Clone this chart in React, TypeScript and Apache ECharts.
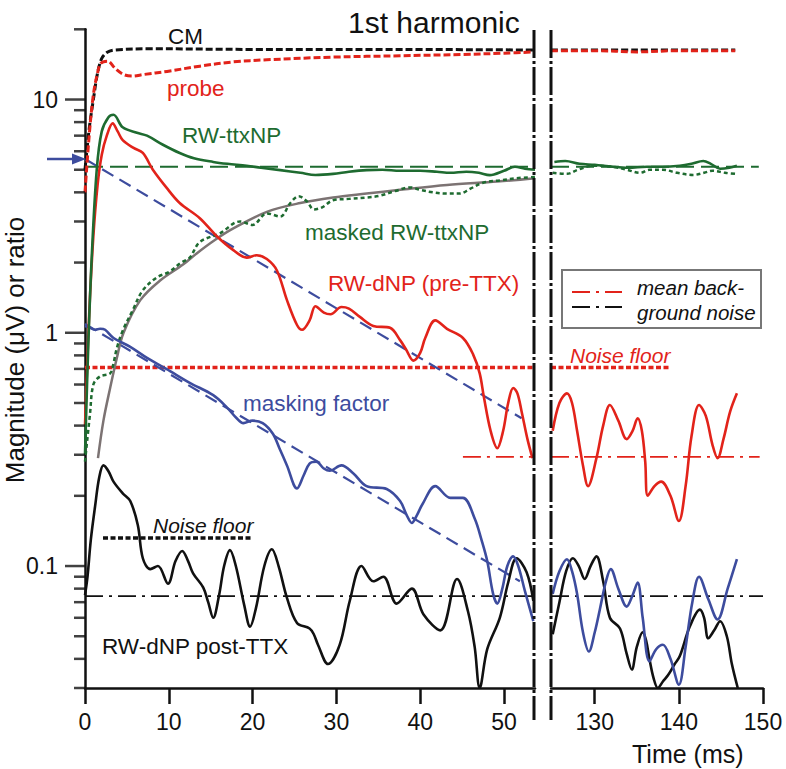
import React, { useEffect, useRef } from 'react';
import * as echarts from 'echarts';

// ---------- data (time in ms, magnitude in µV or ratio) ----------
const cmLeft = [[0,5],[0.5,7.5],[1,10],[1.5,13],[2,15],[2.6,15.9],[3.5,16.3],[8,16.5],[20,16.4],[35,16.4],[53.7,16.3]];
const cmRight = [[124.8,16.3],[135,16.3],[146.7,16.3]];
const probeLeft = [[0,4.0],[0.5,7],[1,10.5],[1.5,13],[1.9,14.3],[2.7,14.6],[3.6,13.6],[4.6,12.8],[5.6,12.6],[7,12.8],[9.8,13.2],[13.7,13.9],[17.7,14.5],[21.7,14.8],[29.6,15.2],[37.6,15.4],[45,15.6],[50,15.8],[53.7,16.0]];
const probeRight = [[124.8,16.2],[130,16.2],[135,16.0],[140,16.2],[146.7,16.2]];

const ttxLeft = [[0,0.3],[0.4,0.9],[0.8,2.1],[1.4,5.0],[2.0,7.3],[2.8,8.4],[3.4,8.6],[4.5,7.6],[6.2,7.2],[7.4,7.0],[9.3,6.4],[11.3,5.9],[13,5.6],[15.3,5.4],[17,5.3],[19.3,5.2],[21,5.1],[23.3,4.98],[25.7,4.85],[27.5,4.75],[29.6,4.8],[31.5,4.9],[33.6,4.98],[35.5,5.0],[37.6,4.95],[40,4.95],[42,4.9],[43.6,4.85],[45.5,4.9],[47,4.85],[48.3,4.74],[50,4.95],[51.3,5.15],[52.5,5.05],[53.7,5.0]];
const ttxRight = [[125.2,5.4],[126.5,5.45],[128.2,5.3],[130,5.25],[132.1,5.15],[134,5.1],[136.2,5.15],[138,5.15],[140.1,5.2],[141.5,5.3],[142.9,5.45],[143.8,5.3],[144.9,5.05],[146,5.1],[146.9,5.2]];

const maskedLeft = [[0,0.28],[0.6,0.45],[1,0.6],[1.8,0.65],[3,0.67],[3.4,0.74],[3.8,0.86],[4.5,1.02],[5.7,1.25],[6.9,1.52],[8.6,1.73],[10,1.82],[11.5,2.0],[12.5,2.1],[13.7,2.45],[16.1,2.67],[18.5,3.0],[20,2.9],[21.7,3.25],[23.3,3.15],[24.5,3.6],[25.5,3.85],[26.5,3.65],[27.3,3.38],[28.3,3.45],[29.6,3.7],[31.5,3.75],[33.6,3.8],[35.2,3.87],[37,4.05],[38.8,4.2],[40,4.1],[41.5,4.0],[43,3.95],[44.7,3.95],[46,4.15],[47.5,4.4],[49.5,4.5],[51.5,4.6],[53.7,4.65]];
const maskedRight = [[125,4.85],[126.7,4.8],[128,5.0],[129.8,5.2],[132.1,5.15],[133.8,5.0],[135.4,4.85],[136.5,5.0],[138.1,5.0],[139.8,4.85],[141.7,4.75],[143,4.85],[144,4.95],[145.5,4.85],[146.7,4.8]];

const fitLeft = [[1.55,0.29],[2.2,0.42],[3,0.58],[3.8,0.78],[4.6,1.0],[6.6,1.38],[9,1.68],[11.7,1.96],[13.4,2.2],[15.5,2.5],[17.7,2.8],[21.7,3.3],[25.7,3.6],[29.6,3.8],[33.6,3.95],[37.6,4.1],[43.2,4.3],[49.2,4.45],[53.7,4.6]];

const dnpLeft = [[0,0.4],[0.5,1.2],[1,2.6],[1.5,4.3],[2,5.8],[2.6,7.0],[3.3,7.9],[3.9,7.3],[4.5,6.7],[5.8,6.2],[6.9,5.9],[8.1,5.0],[9.7,4.2],[11.3,3.6],[13.7,3.1],[15.7,2.6],[17.7,2.26],[19.3,2.1],[20.5,2.15],[21.7,2.07],[22.9,1.85],[24.1,1.38],[25.3,1.08],[25.9,1.03],[26.8,1.13],[27.5,1.3],[28.5,1.22],[29.3,1.2],[30.6,1.29],[31.5,1.27],[32.8,1.17],[34.4,1.07],[36.4,1.05],[37.6,0.93],[38.3,0.85],[39.2,0.76],[40,0.82],[40.6,0.95],[41.8,1.13],[43.2,1.04],[45.1,0.95],[46.3,0.81],[47.1,0.67],[47.6,0.53],[48.4,0.38],[49.2,0.32],[49.9,0.38],[50.5,0.5],[51.1,0.58],[51.6,0.55],[52.1,0.46],[52.8,0.35],[53.4,0.29]];
const dnpRight = [[125,0.38],[125.8,0.5],[126.7,0.55],[127.3,0.5],[127.9,0.38],[128.6,0.27],[129.2,0.22],[130.2,0.29],[131,0.4],[131.8,0.49],[132.8,0.42],[133.8,0.35],[134.5,0.38],[135.1,0.43],[135.6,0.38],[136,0.28],[136.3,0.2],[137.1,0.22],[137.9,0.23],[139,0.2],[140,0.156],[140.8,0.22],[141.5,0.36],[142.4,0.49],[143.2,0.44],[144,0.33],[144.6,0.29],[145.3,0.35],[146.1,0.46],[146.9,0.55]];

const maskingLeft = [[0,1.07],[0.6,1.05],[1.2,1.03],[1.8,1.04],[2.4,1.03],[3.4,0.95],[5.4,0.87],[7.4,0.78],[9.7,0.7],[12.5,0.61],[15.3,0.54],[16.9,0.48],[18.1,0.43],[18.9,0.41],[20,0.42],[21.2,0.41],[22.4,0.37],[23.2,0.32],[24.1,0.27],[25.3,0.215],[26.1,0.245],[26.8,0.275],[27.6,0.28],[28.5,0.262],[29.2,0.256],[30.6,0.27],[32,0.25],[33.6,0.22],[36,0.214],[37.6,0.19],[38.4,0.165],[39,0.153],[39.6,0.165],[40.3,0.185],[41.8,0.22],[43.6,0.196],[45.1,0.196],[46.5,0.16],[47.3,0.13],[48,0.105],[48.7,0.076],[49.2,0.069],[49.8,0.08],[50.4,0.1],[51.1,0.11],[51.7,0.1],[52.5,0.078],[53.5,0.058]];
const maskingRight = [[125,0.076],[125.8,0.095],[126.7,0.107],[127.3,0.095],[127.9,0.076],[128.6,0.052],[129.3,0.043],[130,0.052],[130.6,0.065],[131.3,0.085],[131.9,0.097],[132.8,0.08],[133.8,0.067],[134.5,0.075],[135.1,0.085],[135.7,0.06],[136.5,0.039],[137.3,0.044],[138.1,0.046],[139,0.04],[140,0.031],[140.8,0.045],[141.6,0.07],[142.4,0.09],[143.5,0.072],[144.6,0.059],[145.8,0.08],[146.9,0.107]];

const postLeft = [[0,0.075],[0.3,0.09],[0.7,0.13],[1.2,0.18],[1.7,0.24],[2.2,0.27],[2.8,0.255],[3.4,0.23],[4.5,0.205],[5.4,0.19],[6.3,0.15],[6.9,0.108],[7.8,0.097],[8.7,0.1],[9.9,0.084],[10.8,0.105],[11.6,0.116],[12.3,0.105],[12.9,0.093],[14.1,0.081],[14.7,0.07],[15.3,0.06],[16,0.075],[16.6,0.1],[17.3,0.117],[18,0.1],[19,0.068],[19.7,0.055],[20.4,0.066],[21.4,0.1],[22.3,0.118],[23.1,0.1],[24.1,0.073],[25.3,0.057],[26.8,0.054],[27.3,0.051],[27.8,0.046],[29,0.038],[30.4,0.046],[31.6,0.071],[33,0.1],[34.4,0.086],[35.6,0.09],[37.2,0.069],[39,0.08],[40.4,0.062],[42.4,0.053],[44.4,0.088],[45.7,0.064],[46.5,0.045],[47.1,0.03],[48,0.044],[49.5,0.06],[50.5,0.085],[51.5,0.108],[52.7,0.094],[53.5,0.071]];
const postRight = [[125,0.051],[125.8,0.07],[126.6,0.095],[127.4,0.108],[128.1,0.1],[128.8,0.088],[129.5,0.1],[130.2,0.11],[131,0.086],[131.8,0.06],[133,0.054],[133.8,0.042],[134.4,0.036],[135,0.045],[135.7,0.052],[136.1,0.048],[136.5,0.04],[137,0.033],[137.5,0.03],[138.1,0.032],[138.7,0.034],[139.5,0.038],[140.1,0.041],[141.3,0.055],[142.5,0.065],[143,0.06],[143.5,0.049],[144.2,0.053],[144.9,0.058],[145.7,0.05],[146.3,0.038],[147,0.03]];

// reference lines
const ttxLevel = 5.15;
const noiseFloorRed = 0.71;
const noiseFloorBlack = 0.132;
const meanNoiseRed = 0.294;
const meanNoiseBlack = 0.0743;
const dnpTrend = [[0,5.56],[52.1,0.43]];
const maskingTrend = [[0,1.09],[51.9,0.086]];

// axes
const leftRange = [0, 53.7];
const rightRange = [124.8, 150];
const yRange = [0.03, 20];
const xTicksLeft = [0, 10, 20, 30, 40, 50];
const xTicksRight = [130, 140, 150];
const yMajorTicks = [0.1, 1, 10];
const yMinorTicks = [0.03,0.04,0.05,0.06,0.07,0.08,0.09,0.2,0.3,0.4,0.5,0.6,0.7,0.8,0.9,2,3,4,5,6,7,8,9,20];

const RED = '#e2231a';
const GREEN = '#1e6b30';
const BLUE = '#3d4c9e';
const GRAY = '#7c7373';
const BLACK = '#111111';
const FONT = '"Liberation Sans", Arial, Helvetica, sans-serif';

const G0 = { left: 85, top: 29.3, width: 450, height: 658.7 };
const G1 = { left: 551, top: 29.3, width: 212, height: 658.7 };

function line(data: any, gi: number, color: string, width: number, type: any, smooth: number = 0.35, z = 3) {
  return {
    type: 'line', data, xAxisIndex: gi, yAxisIndex: gi, showSymbol: false, symbol: 'none',
    smooth, silent: true, z, clip: true, animation: false,
    lineStyle: { color, width, type, cap: 'butt', join: 'round' },
  };
}

function tickSeries(values: number[], len: number) {
  return {
    type: 'scatter', xAxisIndex: 0, yAxisIndex: 0, silent: true, clip: false, z: 6,
    data: values.map((v) => [leftRange[0], v]),
    symbol: 'rect', symbolSize: [len, 2.5], symbolOffset: [-len / 2, 0],
    itemStyle: { color: BLACK }, animation: false,
  };
}

const DASH_DOT = [18, 6, 3, 6];

export default function App() {
  const ref = useRef<HTMLDivElement>(null);
  useEffect(() => {
    document.body.style.margin = '0';
    const chart = echarts.init(ref.current!, null, { renderer: 'svg' });
    const xAxisCommon = {
      type: 'value',
      axisLine: { show: true, lineStyle: { color: BLACK, width: 2.5 } },
      axisTick: { show: true, length: 16, lineStyle: { color: BLACK, width: 2.5 } },
      axisLabel: { color: BLACK, fontSize: 23, margin: 22, fontFamily: FONT },
      splitLine: { show: false },
    };
    const labelSet = new Set(yMajorTicks.map((v) => String(v)));
    const annotations = [
      { t: 'CM', x: 168, y: 36, c: BLACK },
      { t: 'probe', x: 167, y: 88, c: RED },
      { t: 'RW-ttxNP', x: 182, y: 135, c: GREEN },
      { t: 'masked RW-ttxNP', x: 305, y: 232, c: GREEN },
      { t: 'RW-dNP (pre-TTX)', x: 328, y: 283, c: RED },
      { t: 'masking factor', x: 243, y: 403, c: BLUE },
      { t: 'RW-dNP post-TTX', x: 102, y: 646, c: BLACK },
    ];
    const option: any = {
      animation: false,
      backgroundColor: '#fff',
      title: { text: '1st harmonic', left: 343, top: 2, textStyle: { fontSize: 30, fontWeight: 'normal', color: BLACK, fontFamily: FONT } },
      grid: [
        { ...G0, outerBoundsMode: 'none', containLabel: false },
        { ...G1, outerBoundsMode: 'none', containLabel: false },
      ],
      xAxis: [
        { ...xAxisCommon, gridIndex: 0, min: leftRange[0], max: leftRange[1],
          axisTick: { ...xAxisCommon.axisTick, customValues: xTicksLeft },
          axisLabel: { ...xAxisCommon.axisLabel, customValues: xTicksLeft } },
        { ...xAxisCommon, gridIndex: 1, min: rightRange[0], max: rightRange[1],
          axisTick: { ...xAxisCommon.axisTick, customValues: xTicksRight },
          axisLabel: { ...xAxisCommon.axisLabel, customValues: xTicksRight } },
      ],
      yAxis: [
        { type: 'log', logBase: 10, gridIndex: 0, min: yRange[0], max: yRange[1],
          axisLine: { show: true, lineStyle: { color: BLACK, width: 2.5 } },
          axisTick: { show: false }, splitLine: { show: false },
          axisLabel: { color: BLACK, fontSize: 23, margin: 27, fontFamily: FONT, showMinLabel: false, showMaxLabel: false,
            formatter: (v: number) => { const s = String(+v.toPrecision(6)); return labelSet.has(s) ? s : ''; } } },
        { type: 'log', logBase: 10, gridIndex: 1, min: yRange[0], max: yRange[1], show: false },
      ],
      series: [
        // reference lines
        line([[leftRange[0], ttxLevel], [leftRange[1], ttxLevel]], 0, GREEN, 1.8, [18, 7], 0, 2),
        line([[rightRange[0], ttxLevel], [149.5, ttxLevel]], 1, GREEN, 1.8, [18, 7], 0, 2),
        line([[leftRange[0], noiseFloorRed], [leftRange[1], noiseFloorRed]], 0, RED, 3.5, [5, 2.5], 0, 2),
        line([[rightRange[0], noiseFloorRed], [138.9, noiseFloorRed]], 1, RED, 3.5, [5, 2.5], 0, 2),
        line([[2.15, noiseFloorBlack], [20, noiseFloorBlack]], 0, BLACK, 3.5, [5, 2.5], 0, 2),
        line([[45.1, meanNoiseRed], [leftRange[1], meanNoiseRed]], 0, RED, 1.8, DASH_DOT, 0, 2),
        line([[rightRange[0], meanNoiseRed], [149.6, meanNoiseRed]], 1, RED, 1.8, DASH_DOT, 0, 2),
        line([[leftRange[0], meanNoiseBlack], [leftRange[1], meanNoiseBlack]], 0, BLACK, 1.8, DASH_DOT, 0, 2),
        line([[rightRange[0], meanNoiseBlack], [rightRange[1], meanNoiseBlack]], 1, BLACK, 1.8, DASH_DOT, 0, 2),
        line(dnpTrend, 0, BLUE, 2.2, [13, 7], 0, 2),
        line(maskingTrend, 0, BLUE, 2.2, [13, 7], 0, 2),
        // curves
        line(fitLeft, 0, GRAY, 2.5, 'solid'),
        line(maskedLeft, 0, GREEN, 2.5, [4, 3]),
        line(maskedRight, 1, GREEN, 2.5, [4, 3]),
        line(postLeft, 0, BLACK, 2.6, 'solid'),
        line(postRight, 1, BLACK, 2.6, 'solid'),
        line(maskingLeft, 0, BLUE, 2.6, 'solid'),
        line(maskingRight, 1, BLUE, 2.6, 'solid'),
        line(dnpLeft, 0, RED, 2.6, 'solid'),
        line(dnpRight, 1, RED, 2.6, 'solid'),
        line(ttxLeft, 0, GREEN, 2.6, 'solid'),
        line(ttxRight, 1, GREEN, 2.6, 'solid'),
        line(cmLeft, 0, BLACK, 3, [7, 3]),
        line(cmRight, 1, BLACK, 3, [7, 3]),
        line(probeLeft, 0, RED, 3, [7, 3]),
        line(probeRight, 1, RED, 3, [7, 3]),
        // y-axis ticks (log minor ticks 2..9 per decade)
        tickSeries(yMajorTicks, 20),
        tickSeries(yMinorTicks, 11),
      ],
      graphic: [
        // axis break lines
        { type: 'line', shape: { x1: G0.left + G0.width - 1, y1: 30, x2: G0.left + G0.width - 1, y2: 720 }, style: { stroke: BLACK, lineWidth: 3, lineDash: [28, 3, 3, 3] }, z: 10 },
        { type: 'line', shape: { x1: G1.left, y1: 30, x2: G1.left, y2: 720 }, style: { stroke: BLACK, lineWidth: 3, lineDash: [28, 3, 3, 3] }, z: 10 },
        // arrow
        { type: 'line', shape: { x1: 47, y1: 159, x2: 76, y2: 159 }, style: { stroke: BLUE, lineWidth: 2.5 }, z: 10 },
        { type: 'polygon', shape: { points: [[86, 159], [72, 153.5], [72, 164.5]] }, style: { fill: BLUE }, z: 10 },
        // annotations
        ...annotations.map((a) => ({ type: 'text', x: a.x, y: a.y, style: { text: a.t, fill: a.c, fontSize: 22.5, fontFamily: FONT, verticalAlign: 'middle', align: 'left' }, z: 10 })),
        { type: 'text', x: 153, y: 525, style: { text: 'Noise floor', fill: BLACK, fontSize: 21, fontStyle: 'italic', fontFamily: FONT, verticalAlign: 'middle' }, z: 10 },
        { type: 'text', x: 570, y: 355, style: { text: 'Noise floor', fill: RED, fontSize: 21, fontStyle: 'italic', fontFamily: FONT, verticalAlign: 'middle' }, z: 10 },
        // legend box
        { type: 'rect', shape: { x: 562, y: 270, width: 199, height: 58 }, style: { fill: '#fff', stroke: '#777', lineWidth: 2 }, z: 9 },
        { type: 'line', shape: { x1: 572, y1: 292, x2: 622, y2: 292 }, style: { stroke: RED, lineWidth: 2, lineDash: DASH_DOT }, z: 10 },
        { type: 'line', shape: { x1: 572, y1: 307, x2: 622, y2: 307 }, style: { stroke: BLACK, lineWidth: 2, lineDash: DASH_DOT }, z: 10 },
        { type: 'text', x: 637, y: 287, style: { text: 'mean back-', fill: BLACK, fontSize: 20.5, fontStyle: 'italic', fontFamily: FONT, verticalAlign: 'middle' }, z: 10 },
        { type: 'text', x: 637, y: 312, style: { text: 'ground noise', fill: BLACK, fontSize: 20.5, fontStyle: 'italic', fontFamily: FONT, verticalAlign: 'middle' }, z: 10 },
        // axis titles
        { type: 'text', x: 15, y: 350, rotation: Math.PI / 2, style: { text: 'Magnitude (μV) or ratio', fill: BLACK, fontSize: 26, fontFamily: FONT, align: 'center', verticalAlign: 'middle' }, z: 10 },
        { type: 'text', x: 632, y: 754, style: { text: 'Time (ms)', fill: BLACK, fontSize: 25, fontFamily: FONT, verticalAlign: 'middle' }, z: 10 },
      ],
    };
    chart.setOption(option);
    return () => chart.dispose();
  }, []);
  return <div ref={ref} style={{ width: 786, height: 769 }} />;
}
